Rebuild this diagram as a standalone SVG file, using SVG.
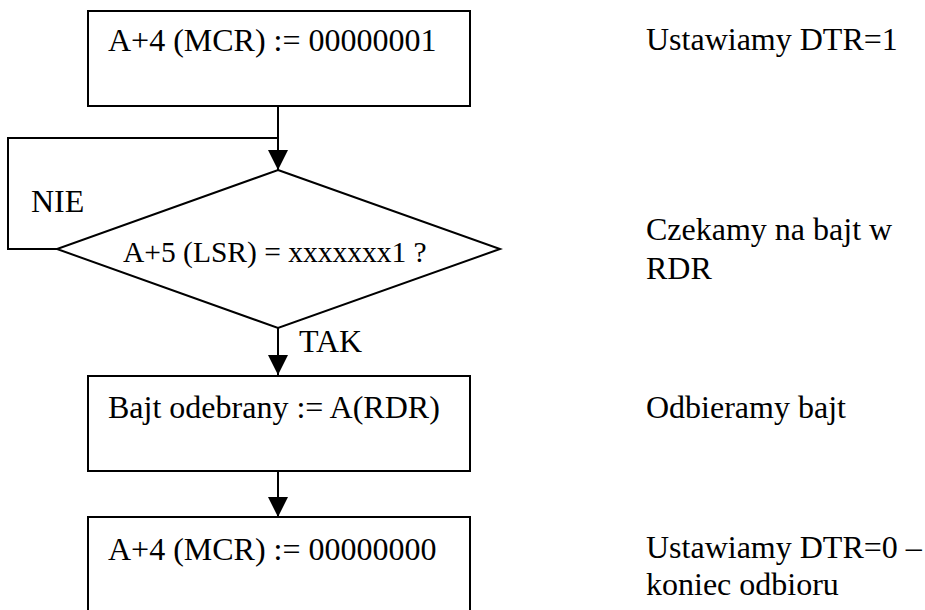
<svg xmlns="http://www.w3.org/2000/svg" width="925" height="610" viewBox="0 0 925 610">
<defs>
<style>
text{font-family:'Liberation Serif','Times New Roman',Times,serif;font-size:32px;fill:#000}
.box{fill:#fff;stroke:#000;stroke-width:2}
.ln{fill:none;stroke:#000;stroke-width:2}
</style>
<marker id="arr" markerWidth="20" markerHeight="21" refX="20" refY="10" orient="auto" markerUnits="userSpaceOnUse">
<path d="M0,0 L20,10 L0,20 Z" fill="#000"/>
</marker>
</defs>
<rect width="925" height="610" fill="#fff"/>
<g id="connectors">
<path class="ln" d="M278,106 V170" marker-end="url(#arr)"/>
<path class="ln" d="M57,249 H8 V138 H278"/>
<path class="ln" d="M278,328 V375" marker-end="url(#arr)"/>
<path class="ln" d="M278,471 V517" marker-end="url(#arr)"/>
</g>
<g font-family="Liberation Serif, Times New Roman, serif">
<g id="n1">
<rect class="box" x="88" y="11" width="382" height="95"/>
<text x="108" y="51">A+4 (MCR) := 00000001</text>
</g>
<g id="n2">
<polygon class="box" points="278,170 500,249 278,328 57,249"/>
<text x="123" y="262" style="font-size:29.5px">A+5 (LSR) = xxxxxxx1 ?</text>
</g>
<g id="n3">
<rect class="box" x="88" y="376" width="382" height="95"/>
<text x="108" y="418">Bajt odebrany := A(RDR)</text>
</g>
<g id="n4">
<rect class="box" x="88" y="517" width="382" height="100"/>
<text x="108" y="560">A+4 (MCR) := 00000000</text>
</g>
<g id="labels">
<text x="31" y="212">NIE</text>
<text x="299" y="352">TAK</text>
<text x="646" y="50">Ustawiamy DTR=1</text>
<text x="646" y="240">Czekamy na bajt w</text>
<text x="646" y="279">RDR</text>
<text x="646" y="418">Odbieramy bajt</text>
<text x="646" y="558">Ustawiamy DTR=0 –</text>
<text x="646" y="595">koniec odbioru</text>
</g>
</g>
</svg>
